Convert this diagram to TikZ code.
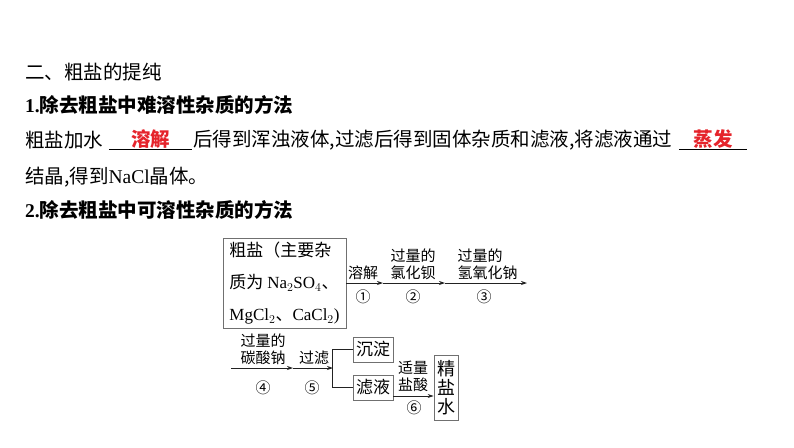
\documentclass[tikz,border=0pt]{standalone}
\usepackage{fontspec}
\setmainfont{Liberation Serif}
\newfontfamily\cjk{Noto Sans CJK SC}
\usepackage{xcolor}
\usetikzlibrary{arrows.meta,positioning,calc}
\definecolor{AnsRed}{HTML}{E5242B}
\definecolor{BoxLine}{HTML}{707070}
\definecolor{FlowLine}{HTML}{222222}
\newcommand{\chem}[1]{{\rmfamily #1}}

\begin{document}
\begin{tikzpicture}[x=1pt,y=-1pt,>={Stealth[length=6pt,width=4pt]},
 txt/.style={anchor=west,inner sep=0pt,font=\fontsize{19.5}{19.5}\cjk},
 head/.style={txt,font=\fontsize{19.5}{19.5}\cjk\bfseries},
 blank/.style={inner sep=0pt,minimum height=20,text=AnsRed,font=\fontsize{19.5}{19.5}\cjk\bfseries},
 lab/.style={inner sep=0pt,align=center,font=\fontsize{15}{17}\cjk},
 box/.style={draw=BoxLine,line width=0.8pt,inner sep=0pt,font=\fontsize{17}{17}\cjk},
 flow/.style={->,draw=FlowLine,line width=0.8pt}]
\useasboundingbox (0,0) rectangle (794,447);
% text above the scheme
\node[txt] (title) at (25,72) {二、粗盐的提纯};
\node[head] (headA) at (25,105) {\chem{1.}除去粗盐中难溶性杂质的方法};
\node[txt] (lineA) at (25,140) {粗盐加水};
\node[blank,minimum width=83] (ansA) at (150.5,139) {溶解};
\draw (ansA.south west) -- (ansA.south east);
\node[txt] (lineB) at (193,140) {后得到浑浊液体,过滤后得到固体杂质和滤液,将滤液通过};
\node[blank,minimum width=68] (ansB) at (713,139) {蒸发};
\draw (ansB.south west) -- (ansB.south east);
\node[txt] (lineC) at (25,177) {结晶,得到\chem{NaCl}晶体。};
\node[head] (headB) at (25,210) {\chem{2.}除去粗盐中可溶性杂质的方法};
% first row
\node[box,minimum width=123,minimum height=90,inner xsep=3,align=left,
 font=\fontsize{17}{32}\cjk] (crude) at (284.5,283)
 {粗盐（主要杂\\质为 \chem{Na$_2$SO$_4$}、\\\chem{MgCl$_2$}、\chem{CaCl$_2$)}};
\coordinate (a1) at (383,283);
\coordinate (a2) at (445,283);
\coordinate (a3) at (527,283);
\draw[flow] (crude.east) -- (a1);
\draw[flow] (a1) -- (a2);
\draw[flow] (a2) -- (a3);
\node[lab] (s1) at (363,273) {溶解};
\node[lab] (n1) at (363,297) {①};
\node[lab] (s2) at (413,264) {过量的\\氯化钡};
\node[lab] (n2) at (413,297) {②};
\node[lab,align=left] (s3) at (487.5,264) {过量的\\氢氧化钠};
\node[lab] (n3) at (484,297) {③};
% second row
\coordinate (b0) at (231,368);
\coordinate (b1) at (293,368);
\coordinate (b2) at (333,368);
\draw[flow] (b0) -- (b1);
\draw[flow] (b1) -- (b2);
\node[lab] (s4) at (263,349) {过量的\\碳酸钠};
\node[lab] (n4) at (263,388) {④};
\node[lab] (s5) at (314,358) {过滤};
\node[lab] (n5) at (312,388) {⑤};
\node[box,minimum width=40,minimum height=25] (sed) at (373,349.5) {沉淀};
\node[box,minimum width=40,minimum height=25] (filt) at (373,387.5) {滤液};
\draw[draw=FlowLine,line width=0.8pt] (sed.west) -- ++(-20,0) |- (filt.west);
\node[box,minimum width=24,minimum height=65,align=center,
 font=\fontsize{18}{19}\cjk] (brine) at (446,387.5) {精\\盐\\水};
\draw[flow] ([yshift=-8.5pt]filt.east) -- ([yshift=-8.5pt]brine.west);
\node[lab] (s6) at (413,376.5) {适量\\盐酸};
\node[lab] (n6) at (414,408) {⑥};
\end{tikzpicture}
\end{document}
